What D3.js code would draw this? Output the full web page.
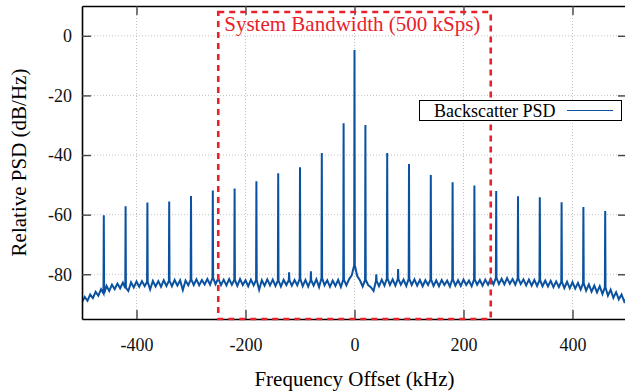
<!DOCTYPE html>
<html>
<head>
<meta charset="utf-8">
<script src="https://cdn.jsdelivr.net/npm/d3@7"></script>
<style>
  body { margin: 0; background: #fff; }
  svg { display: block; font-family: "Liberation Serif", "Times New Roman", serif; }
</style>
</head>
<body>
<div id="chart"></div>
<script>
// noise floor every 5 kHz, from -500 to 500 kHz
const noiseFloor = [
  -89.3, -87.6, -88.9, -86.8, -88.0, -85.9, -87.2, -85.0, -86.4, -83.9,
  -85.6, -83.5, -85.0, -83.1, -84.7, -82.8, -84.6, -85.6, -82.7, -84.4,
  -82.4, -84.2, -82.3, -84.0, -82.5, -85.1, -82.2, -84.1, -82.3, -84.2,
  -82.0, -83.9, -82.2, -84.0, -81.9, -83.8, -82.0, -85.3, -82.1, -83.7,
  -81.8, -83.6, -81.7, -83.7, -81.9, -83.4, -81.6, -83.5, -81.2, -83.3,
  -81.4, -83.6, -81.8, -83.7, -81.6, -83.5, -81.9, -83.9, -81.6, -83.6,
  -82.0, -84.0, -81.8, -83.7, -81.9, -85.2, -82.0, -83.8, -81.7, -83.7,
  -81.8, -83.9, -82.1, -84.1, -81.9, -83.6, -82.0, -83.8, -81.9, -83.7,
  -81.5, -84.0, -81.9, -84.1, -82.0, -83.8, -81.7, -84.3, -81.3, -83.7,
  -82.0, -84.2, -82.1, -83.9, -81.9, -84.3, -81.8, -83.7, -81.7, -80.3,
  -77.0,
  -80.6, -82.0, -84.1, -81.9, -83.6, -84.3, -85.6, -82.2, -84.0, -81.8,
  -83.8, -81.4, -83.6, -81.7, -83.8, -81.6, -83.5, -81.8, -83.9, -81.5,
  -83.6, -81.7, -83.8, -81.9, -84.0, -82.0, -83.6, -81.8, -83.9, -82.0,
  -84.0, -81.9, -83.6, -82.1, -84.1, -81.7, -83.8, -82.0, -83.9, -81.8,
  -83.6, -82.1, -84.0, -81.7, -83.5, -81.9, -83.8, -81.8, -83.5, -81.5,
  -83.4, -81.2, -83.3, -81.5, -83.4, -81.3, -83.2, -81.6, -83.5, -81.4,
  -83.3, -81.7, -83.7, -81.8, -83.8, -81.9, -83.9, -82.0, -84.0, -82.1,
  -84.1, -82.2, -84.3, -82.4, -84.3, -82.5, -84.6, -82.5, -84.7, -82.6,
  -84.8, -82.9, -85.1, -83.0, -85.5, -83.4, -85.8, -83.8, -86.1, -84.0,
  -86.6, -84.4, -87.2, -85.2, -87.9, -86.0, -88.4, -86.8, -89.2, -87.9
];

// tones (odd harmonics of the 20 kHz subcarrier) and weak even ones
const toneFreqs = [-460, -420, -380, -340, -300, -260, -220, -180, -140, -100, -60, -20, 0,
  20, 60, 100, 140, 180, 220, 260, 300, 340, 380, 420, 460];
const tonePeaks = [-60.2, -57.2, -55.9, -55.6, -53.7, -51.9, -51.2, -48.8, -46.1, -44.1, -39.3, -29.3, -4.8,
  -29.9, -39.3, -43.0, -46.7, -49.1, -50.2, -52.1, -53.8, -54.2, -55.8, -57.4, -58.8];
const minorFreqs = [-120, -80, 40, 80];
const minorPeaks = [-79.3, -79.0, -80.0, -78.2];

const xTicks = [-400, -200, 0, 200, 400];
const yTicks = [0, -20, -40, -60, -80];
const bandEdges = [-250, 250];
const bandTop = 8;

const width = 625, height = 391;
const plotLeft = 82, plotRight = 627, plotTop = 6, plotBottom = 319;

const x = d3.scaleLinear().domain([-500, 500]).range([plotLeft, plotRight]);
const y = d3.scaleLinear().domain([-95, 10]).range([plotBottom, plotTop]);

const svg = d3.select('#chart').append('svg')
  .attr('width', width)
  .attr('height', height);

svg.append('clipPath').attr('id', 'plot')
  .append('rect')
  .attr('x', plotLeft).attr('y', plotTop)
  .attr('width', plotRight - plotLeft).attr('height', plotBottom - plotTop);

// grid
svg.append('g').selectAll('line')
  .data(xTicks).enter().append('line')
  .attr('x1', d => x(d)).attr('x2', d => x(d))
  .attr('y1', plotTop).attr('y2', plotBottom)
  .attr('stroke', '#c4c4c4').attr('stroke-width', 1)
  .attr('stroke-dasharray', '1,2');
svg.append('g').selectAll('line')
  .data(yTicks).enter().append('line')
  .attr('x1', plotLeft).attr('x2', plotRight)
  .attr('y1', d => y(d)).attr('y2', d => y(d))
  .attr('stroke', '#c4c4c4').attr('stroke-width', 1)
  .attr('stroke-dasharray', '1,2');

// build the trace: noise floor with the tones drawn as narrow spikes
const freqs = d3.range(-500, 505, 5);
const peaks = new Map();
toneFreqs.forEach((f, i) => peaks.set(f, tonePeaks[i]));
minorFreqs.forEach((f, i) => peaks.set(f, minorPeaks[i]));

const trace = [];
freqs.forEach((f, i) => {
  const v = noiseFloor[i];
  if (peaks.has(f)) {
    trace.push([f - 0.6, v], [f, peaks.get(f)], [f + 0.6, v]);
  } else {
    trace.push([f, v]);
  }
});

const line = d3.line()
  .x(d => x(d[0]))
  .y(d => y(d[1]));

svg.append('path')
  .datum(trace)
  .attr('clip-path', 'url(#plot)')
  .attr('d', line)
  .attr('fill', 'none')
  .attr('stroke', '#0a52a0')
  .attr('stroke-width', 2)
  .attr('stroke-linejoin', 'miter');

// axes
const axisStyle = g => {
  g.selectAll('.domain').attr('stroke', '#000').attr('stroke-width', 1.6);
  g.selectAll('.tick line').attr('stroke', '#444').attr('stroke-width', 1.4);
  g.selectAll('.tick text').attr('fill', '#111')
    .style('font-size', '18px').style('font-family', '"Liberation Serif", serif');
};

svg.append('g')
  .attr('transform', `translate(0,${plotBottom})`)
  .call(d3.axisBottom(x).tickValues(xTicks).tickSizeInner(-9).tickSizeOuter(0).tickPadding(19)
    .tickFormat(d => String(d)))
  .call(axisStyle);

svg.append('g')
  .attr('transform', `translate(0,${plotTop})`)
  .call(d3.axisTop(x).tickValues(xTicks).tickSizeInner(-9).tickSizeOuter(0).tickFormat(''))
  .call(axisStyle);

svg.append('g')
  .attr('transform', `translate(${plotLeft},0)`)
  .call(d3.axisLeft(y).tickValues(yTicks).tickSizeInner(-9).tickSizeOuter(0).tickPadding(10)
    .tickFormat(d => String(d)))
  .call(axisStyle);

svg.append('g')
  .attr('transform', `translate(${plotRight},0)`)
  .call(d3.axisRight(y).tickValues(yTicks).tickSizeInner(-9).tickSizeOuter(0).tickFormat(''))
  .call(axisStyle);

// system bandwidth box
svg.append('rect')
  .attr('x', x(bandEdges[0]))
  .attr('y', y(bandTop))
  .attr('width', x(bandEdges[1]) - x(bandEdges[0]))
  .attr('height', plotBottom - y(bandTop))
  .attr('fill', 'none')
  .attr('stroke', '#e8212b')
  .attr('stroke-width', 2.6)
  .attr('stroke-dasharray', '6,5');

svg.append('text')
  .attr('x', x(bandEdges[0]) + 6)
  .attr('y', 31)
  .attr('fill', '#e8212b')
  .style('font-size', '21px')
  .text('System Bandwidth (500 kSps)');

// legend
const legend = svg.append('g');
legend.append('rect')
  .attr('x', 419.5).attr('y', 100.5)
  .attr('width', 202).attr('height', 20)
  .attr('fill', '#fff').attr('stroke', '#000').attr('stroke-width', 1);
legend.append('text')
  .attr('x', 434).attr('y', 117)
  .style('font-size', '18px')
  .text('Backscatter PSD');
legend.append('line')
  .attr('x1', 567).attr('x2', 613)
  .attr('y1', 110.5).attr('y2', 110.5)
  .attr('stroke', '#0a52a0').attr('stroke-width', 1.2);

// axis titles
svg.append('text')
  .attr('x', (plotLeft + plotRight) / 2)
  .attr('y', 386)
  .attr('text-anchor', 'middle')
  .style('font-size', '21px')
  .text('Frequency Offset (kHz)');

svg.append('text')
  .attr('transform', `translate(26,${(plotTop + plotBottom) / 2}) rotate(-90)`)
  .attr('text-anchor', 'middle')
  .style('font-size', '21px')
  .text('Relative PSD (dB/Hz)');
</script>
</body>
</html>
